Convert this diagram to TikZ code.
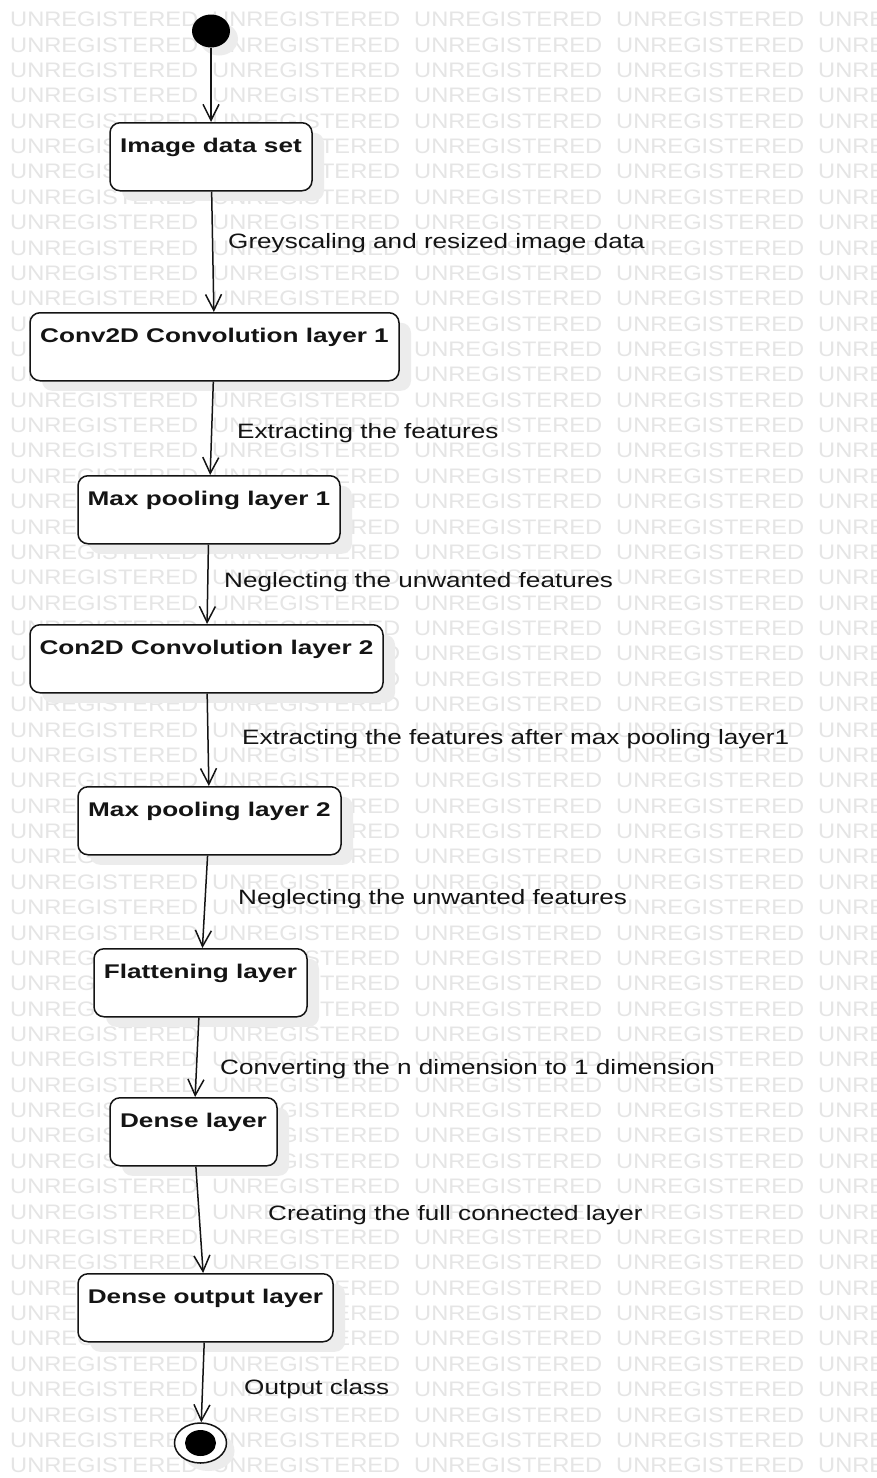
\documentclass[tikz,border=0pt]{standalone}
\usepackage{fontspec}
\setmainfont{Liberation Sans}
\newfontfamily\wmfont[FakeStretch=1.127]{Liberation Sans}
\newfontfamily\boxfont[FakeStretch=1.32]{Liberation Sans}
\newfontfamily\labfont[FakeStretch=1.255]{Liberation Sans}
\usetikzlibrary{arrows.meta,shapes.geometric,shadows}
\definecolor{wmc}{RGB}{229,229,229}
\definecolor{shd}{RGB}{236,236,236}
\definecolor{ink}{RGB}{20,20,20}
\begin{document}
\begin{tikzpicture}[x=1pt,y=-1pt,
  wm/.style={anchor=base west, inner sep=0pt, text=wmc, font=\wmfont\fontsize{21}{21}\selectfont},
  state/.style={draw=ink, line width=1.5pt, fill=white, rounded corners=10pt,
    inner xsep=0pt, inner ysep=0pt, text height=30pt, text depth=38pt,
    minimum height=68pt, anchor=north, text=ink,
    font=\boxfont\bfseries\fontsize{19.8}{22}\selectfont,
    drop shadow={shadow xshift=12pt, shadow yshift=-10pt, fill=shd, opacity=1}},
  lab/.style={anchor=base west, inner sep=0pt, text=ink, font=\labfont\fontsize{20.8}{22}\selectfont},
  startdot/.style={ellipse, fill=black, inner sep=0pt, minimum width=38pt, minimum height=33pt,
    drop shadow={shadow xshift=8pt, shadow yshift=-8pt, fill=shd, opacity=1}},
  endring/.style={ellipse, draw=ink, line width=1.5pt, fill=white, inner sep=0pt, minimum width=52pt, minimum height=40pt,
    drop shadow={shadow xshift=8pt, shadow yshift=-8pt, fill=shd, opacity=1}},
  enddot/.style={ellipse, fill=black, inner sep=0pt, minimum width=31pt, minimum height=26pt},
  flow/.style={draw=ink, line width=1.5pt, -{Straight Barb[length=16pt,width=16pt]}}
]
\useasboundingbox (0,0) rectangle (877,1478);
\fill[white] (0,0) rectangle (877,1478);
% watermark
\begin{scope}
\clip (0,0) rectangle (877,1478);
\foreach \r in {0,...,57} {
  \foreach \c in {0,...,4} {
    \node[wm] (w-\r-\c) at ({10+202*\c}, {26.7+25.37*\r}) {UNREGISTERED};
  }
}
\end{scope}
% nodes
\node[startdot] (start) at (211,31) {};
\node[state, minimum width=202pt] (n1) at (211,122) {Image data set};
\node[state, minimum width=369pt] (n2) at (214.5,312) {Conv2D Convolution layer 1};
\node[state, minimum width=262pt] (n3) at (209,475) {Max pooling layer 1};
\node[state, minimum width=353pt] (n4) at (206.5,624) {Con2D Convolution layer 2};
\node[state, minimum width=263pt] (n5) at (209.5,786) {Max pooling layer 2};
\node[state, minimum width=213pt] (n6) at (200.5,948) {Flattening layer};
\node[state, minimum width=167pt] (n7) at (193.5,1097) {Dense layer};
\node[state, minimum width=255pt] (n8) at (205.5,1273) {Dense output layer};
\node[endring] (end) at (200.5,1443) {};
\node[enddot] (endin) at (end.center) {};
% edges
\draw[flow] (start) -- (n1);
\draw[flow] (n1) -- (n2);
\draw[flow] (n2) -- (n3);
\draw[flow] (n3) -- (n4);
\draw[flow] (n4) -- (n5);
\draw[flow] (n5) -- (n6);
\draw[flow] (n6) -- (n7);
\draw[flow] (n7) -- (n8);
\draw[flow] (n8) -- (end);
% labels
\node[lab] (l1) at (228,248) {Greyscaling and resized image data};
\node[lab] (l2) at (237,438) {Extracting the features};
\node[lab] (l3) at (224,587) {Neglecting the unwanted features};
\node[lab] (l4) at (242,744) {Extracting the features after max pooling layer1};
\node[lab] (l5) at (238,904) {Neglecting the unwanted features};
\node[lab] (l6) at (220,1074) {Converting the n dimension to 1 dimension};
\node[lab] (l7) at (268,1220) {Creating the full connected layer};
\node[lab] (l8) at (244,1394) {Output class};
\end{tikzpicture}
\end{document}
